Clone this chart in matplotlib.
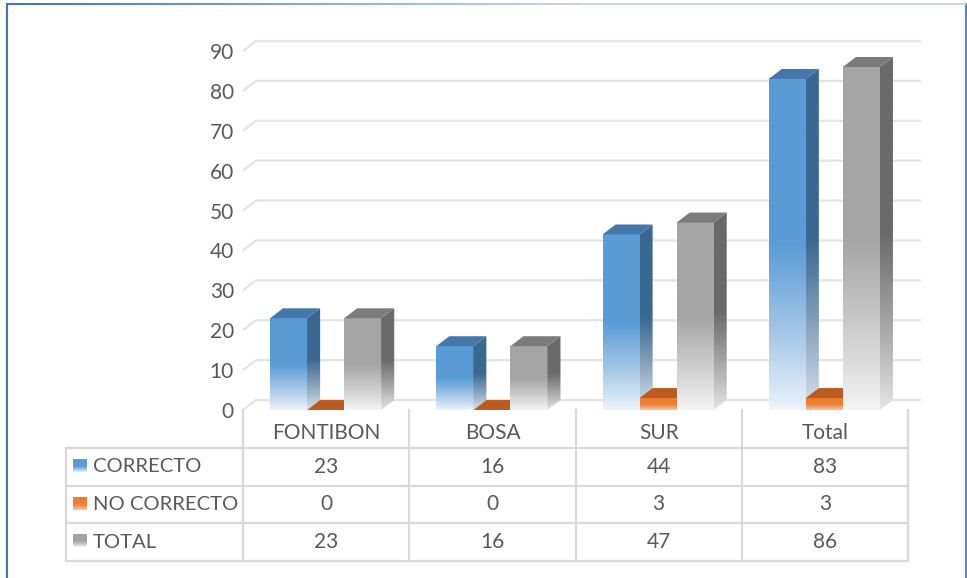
import numpy as np
import matplotlib
matplotlib.use('Agg')
import matplotlib.pyplot as plt
from matplotlib.patches import Polygon
from matplotlib.colors import to_rgb
from matplotlib.lines import Line2D
from matplotlib.collections import LineCollection

# datos del grafico
categorias = ['FONTIBON', 'BOSA', 'SUR', 'Total']
series = ['CORRECTO', 'NO CORRECTO', 'TOTAL']
correcto = [23, 16, 44, 83]
no_correcto = [0, 0, 3, 3]
total = [23, 16, 47, 86]
y_ticks = list(range(0, 100, 10))

valores = [correcto, no_correcto, total]

# colores por serie: frente, frente abajo, lado, lado abajo, tapa
estilos = [
    dict(front='#5B9BD5', front_bot='#EEF4FB', side='#3A6892', side_bot='#DCE4EC', top='#4677AA'),
    dict(front='#ED7D31', front_bot='#F7C9A8', side='#B35A22', side_bot='#D9976A', top='#BA5C22'),
    dict(front='#A5A5A5', front_bot='#F5F5F5', side='#6A6A6A', side_bot='#E6E6E6', top='#7B7B7B'),
]

plt.rcParams['font.family'] = ['Lato', 'DejaVu Sans']
TXT = '#595959'
LINEA = '#D9D9D9'
GRID = '#E4E4E4'

W, H = 967, 578
fig = plt.figure(figsize=(W / 100, H / 100), dpi=100)


def px_rect(x0, y0, x1, y1):
    return [x0 / W, 1 - y1 / H, (x1 - x0) / W, (y1 - y0) / H]


def gradiente(c_top, c_bot, corte=0.5, n=128):
    t = np.linspace(0, 1, n)[:, None]
    w = np.clip(t / corte, 0, 1) ** 0.9
    img = np.array(to_rgb(c_bot)) * (1 - w) + np.array(to_rgb(c_top)) * w
    return img[:, None, :]


DX = 13 / 166   # profundidad en x (unidades de categoria)
DY = 2.5        # profundidad en y (unidades de valor)


def barra_3d(ax, x0, ancho, h, st, z):
    x1 = x0 + ancho
    if h > 0:
        ax.imshow(gradiente(st['front'], st['front_bot']), extent=[x0, x1, 0, h],
                  origin='lower', aspect='auto', interpolation='bilinear', zorder=z)
        lado = Polygon([(x1, 0), (x1 + DX, DY), (x1 + DX, h + DY), (x1, h)],
                       closed=True, facecolor='none', edgecolor='none', zorder=z)
        ax.add_patch(lado)
        im = ax.imshow(gradiente(st['side'], st['side_bot']), extent=[x1, x1 + DX, 0, h + DY],
                       origin='lower', aspect='auto', interpolation='bilinear', zorder=z)
        im.set_clip_path(lado)
    tapa = Polygon([(x0, h), (x1, h), (x1 + DX, h + DY), (x0 + DX, h + DY)],
                   closed=True, facecolor=st['top'], edgecolor='none', zorder=z + 0.5)
    ax.add_patch(tapa)


# ---- grafico ----
ax = fig.add_axes(px_rect(243, 51, 908, 410))
for v in y_ticks:
    ax.plot([0, DX, 4 + DX], [v, v + DY, v + DY], color=GRID, lw=1.6,
            clip_on=False, zorder=1, solid_capstyle='butt')

ancho = 37 / 166
inicio = 27 / 166
z = 2
for i in range(len(categorias)):
    for s in range(len(series)):
        barra_3d(ax, i + inicio + s * ancho, ancho, valores[s][i], estilos[s], z)
        z += 1

ax.set_xlim(0, 4)
ax.set_ylim(0, 90)
ax.set_xticks([])
ax.set_yticks(y_ticks)
ax.set_yticklabels([str(v) for v in y_ticks])
ax.tick_params(axis='y', length=0, pad=6.5, labelsize=15, labelcolor=TXT)
for sp in ax.spines.values():
    sp.set_visible(False)
ax.patch.set_alpha(0)

# ---- tabla de datos ----
tax = fig.add_axes(px_rect(66, 410, 908, 561))
x_izq = -177 / 166
for r in range(1, 5):
    tax.plot([x_izq, 4], [r, r], color=LINEA, lw=1.6, clip_on=False)
tax.plot([x_izq, x_izq], [1, 4], color=LINEA, lw=1.6, clip_on=False)
for c in range(5):
    tax.plot([c, c], [0, 4], color=LINEA, lw=1.6, clip_on=False)

for i, cat in enumerate(categorias):
    tax.text(i + 0.5, 0.62, cat, ha='center', va='center', fontsize=15, color=TXT)

for s, nombre in enumerate(series):
    r = s + 1
    st = estilos[s]
    tax.imshow(gradiente(st['front'], st['front_bot'], corte=0.45),
               extent=[-1.024, -0.94, r + 0.64, r + 0.3], origin='lower',
               aspect='auto', interpolation='bilinear')
    tax.text(-0.905, r + 0.5, nombre, ha='left', va='center', fontsize=14.6, color=TXT)
    for i in range(len(categorias)):
        tax.text(i + 0.5, r + 0.5, str(valores[s][i]), ha='center', va='center',
                 fontsize=15, color=TXT)

tax.set_xlim(x_izq, 4)
tax.set_ylim(4, 0)
tax.axis('off')

# ---- borde ----
fig.add_artist(Line2D([6.5 / W, 6.5 / W], [0, 1 - 4 / H], color='#4472C4', lw=1.5))
fig.add_artist(Line2D([966 / W, 966 / W], [0, 1 - 4 / H], color='#5B86CF', lw=1.5))
n = 60
xs = np.linspace(6.5, 966, n + 1) / W
segs = [[(xs[k], 1 - 4 / H), (xs[k + 1], 1 - 4 / H)] for k in range(n)]
c0, c1 = np.array(to_rgb('#4472C4')), np.array(to_rgb('#C9D7EF'))
cols = [c0 + (c1 - c0) * min(1, k / (n * 0.6)) for k in range(n)]
fig.add_artist(LineCollection(segs, colors=cols, linewidths=1.5, transform=fig.transFigure))

fig.savefig('out.png', dpi=100)
